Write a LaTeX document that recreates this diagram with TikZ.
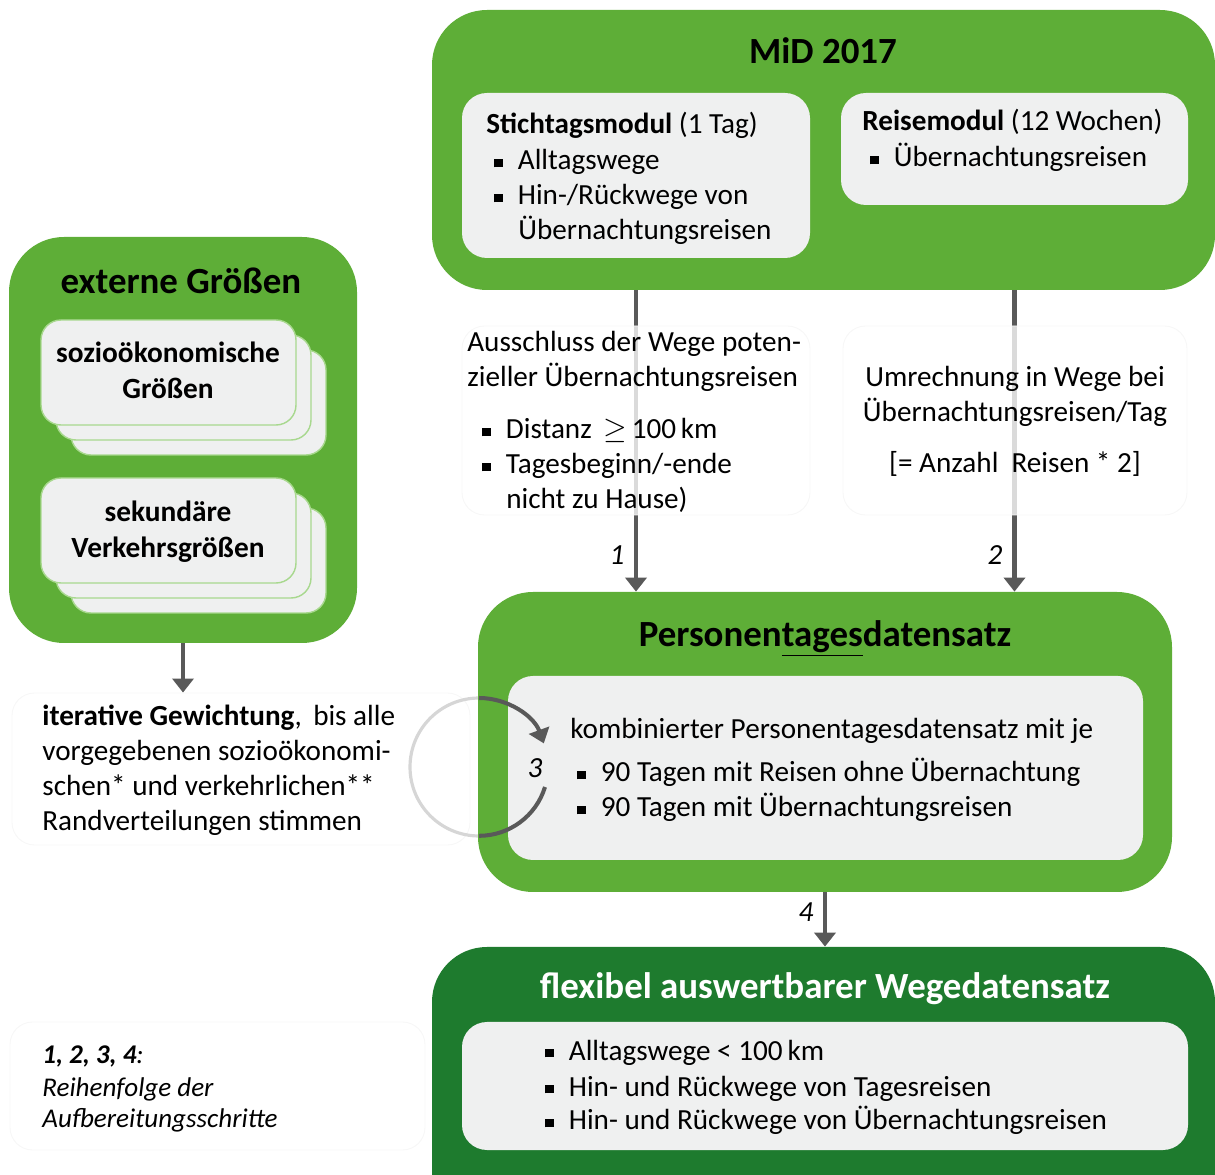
\documentclass[tikz,border=0pt]{standalone}
\usepackage{fontspec}
\setmainfont{Carlito}
\usetikzlibrary{positioning,arrows.meta,fit}
\definecolor{midgreen}{HTML}{5EAE37}
\definecolor{darkgreen}{HTML}{1E7B2E}
\definecolor{boxgrey}{HTML}{EFF0F0}
\definecolor{cardline}{HTML}{A8D88E}
\definecolor{arrowgrey}{HTML}{595959}
\definecolor{ringgrey}{HTML}{D6D6D6}
\newcommand{\blt}{\makebox[13.4pt][l]{\rule[1.5pt]{5pt}{5pt}}}
\newcommand{\bodyfont}{\fontsize{16.6}{19.8}\selectfont}
\newcommand{\headfont}{\fontsize{21}{25}\selectfont\bfseries}

\begin{document}
\begin{tikzpicture}[x=0.02cm,y=-0.02cm,
  greenbox/.style={fill=midgreen,rounded corners=1.1cm,inner sep=0pt},
  darkbox/.style={fill=darkgreen,rounded corners=1.1cm,inner sep=0pt},
  greybox/.style={fill=boxgrey,rounded corners=0.5cm,inner sep=0pt},
  card/.style={fill=boxgrey,draw=cardline,line width=0.8pt,rounded corners=0.4cm,inner sep=0pt},
  notebox/.style={fill=white,fill opacity=0.78,draw=black!3,line width=0.5pt,rounded corners=0.45cm,inner sep=0pt},
  txt/.style={anchor=base west,inner sep=0pt,font=\bodyfont},
  ctxt/.style={anchor=base,inner sep=0pt,font=\bodyfont},
  head/.style={anchor=base,inner sep=0pt,font=\headfont},
  flow/.style={draw=arrowgrey,line width=2.3pt,-{Triangle[width=12pt,length=8pt]}},
  steplbl/.style={inner sep=0pt,font=\bodyfont\itshape},
]
\useasboundingbox (0,0) rectangle (1215,1175);

% MiD 2017
\node[greenbox,fit={(432,10) (1215,290)}] (mid) {};
\node[head] (midT) at (823,64) {MiD 2017};
\node[greybox,fit={(462,93) (810,258)}] (stich) {};
\node[txt] (stichT) at (486,134) {\textbf{Stichtagsmodul} (1 Tag)};
\node[txt] (stich1) at (494,170) {\blt Alltagswege};
\node[txt] (stich2) at (494,205) {\blt Hin-/Rückwege von};
\node[txt] (stich3) at (518,240) {Übernachtungsreisen};
\node[greybox,fit={(841,93) (1188,205)}] (reise) {};
\node[txt] (reiseT) at (862,131) {\textbf{Reisemodul} (12 Wochen)};
\node[txt] (reise1) at (870,167) {\blt Übernachtungsreisen};

% externe Groessen
\node[greenbox,fit={(9,237) (357,643)}] (ext) {};
\node[head] (extT) at (181,294) {externe Größen};
\foreach \d in {30,15,0}{
  \node[card,fit={(41+\d,320+\d) (296+\d,425+\d)}] (soz\d) {};
  \node[card,fit={(41+\d,478+\d) (296+\d,583+\d)}] (sek\d) {};}
\node[ctxt,font=\fontsize{16.7}{20}\selectfont\bfseries] (soz1) at (168,363) {sozioökonomische};
\node[ctxt,font=\fontsize{16.7}{20}\selectfont\bfseries] (soz2) at (168,399) {Größen};
\node[ctxt,font=\fontsize{16.7}{20}\selectfont\bfseries] (sek1) at (168,522) {sekundäre};
\node[ctxt,font=\fontsize{16.7}{20}\selectfont\bfseries] (sek2) at (168,558) {Verkehrsgrößen};

% iterative Gewichtung
\node[notebox,fit={(12,693) (470,845)}] (iter) {};
\node[txt] (iter1) at (42,726) {\textbf{iterative Gewichtung}, \,bis alle};
\node[txt] (iter2) at (42,761) {vorgegebenen sozioökonomi-};
\node[txt] (iter3) at (42,796) {schen* und verkehrlichen**};
\node[txt] (iter4) at (42,831) {Randverteilungen stimmen};
\draw[ringgrey,line width=1.8pt] (479,767) circle (1.38cm);

% Personentagesdatensatz
\node[greenbox,fit={(478,592) (1172,892)}] (ptd) {};
\node[head] (ptdT) at (825,647) {Personen\underline{tages}datensatz};
\node[greybox,fit={(508,676) (1143,860)}] (kombi) {};
\node[txt] (kombi0) at (570,739) {kombinierter Personentagesdatensatz mit je};
\node[txt] (kombi1) at (577,782) {\blt 90 Tagen mit Reisen ohne Übernachtung};
\node[txt] (kombi2) at (577,817) {\blt 90 Tagen mit Übernachtungsreisen};

% Wegedatensatz
\node[darkbox,fit={(432,947) (1215,1230)}] (wds) {};
\node[head,text=white] (wdsT) at (825,999) {flexibel auswertbarer Wegedatensatz};
\node[greybox,fit={(462,1022) (1188,1150)}] (wlist) {};
\node[txt] (wlist1) at (545,1060) {\blt Alltagswege < 100\,km};
\node[txt] (wlist2) at (545,1096) {\blt Hin- und Rückwege von Tagesreisen};
\node[txt] (wlist3) at (545,1130) {\blt Hin- und Rückwege von Übernachtungsreisen};

% Legende
\node[notebox,fit={(10,1022) (425,1150)}] (legend) {};
\node[txt,font=\fontsize{15.4}{18}\selectfont\itshape] (legend1) at (42,1064) {\textbf{1, 2, 3, 4}:};
\node[txt,font=\fontsize{15.4}{18}\selectfont\itshape] (legend2) at (42,1096) {Reihenfolge der};
\node[txt,font=\fontsize{15.4}{18}\selectfont\itshape] (legend3) at (42,1128) {Aufbereitungsschritte};

% Schritte
\draw[flow] (stich.south |- mid.south) -- (stich.south |- ptd.north);
\draw[flow] (reise.south |- mid.south) -- (reise.south |- ptd.north);
\draw[flow] (ptd.south) -- (ptd.south |- wds.north);
\draw[flow] (ext.south) -- (ext.south |- iter.north);
\node[steplbl] (s1) at (617,555) {1};
\node[steplbl] (s2) at (995,555) {2};
\node[steplbl] (s4) at (806,912) {4};

\node[notebox,fit={(462,326) (810,515)}] (excl) {};
\node[txt] (excl1) at (467,352) {Ausschluss der Wege poten-};
\node[txt] (excl2) at (467,387) {zieller Übernachtungsreisen};
\node[txt] (excl3) at (482,439) {\blt Distanz \,$\geq$\,100\,km};
\node[txt] (excl4) at (482,474) {\blt Tagesbeginn/-ende};
\node[txt] (excl5) at (506,509) {nicht zu Hause)};
\node[notebox,fit={(843,326) (1187,515)}] (conv) {};
\node[ctxt] (conv1) at (1015,387) {Umrechnung in Wege bei};
\node[ctxt] (conv2) at (1015,422) {Übernachtungsreisen/Tag};
\node[ctxt] (conv3) at (1015,473) {[= Anzahl \ Reisen * 2]};

% Schleife 3
\draw[flow] (479,698) arc (90:20:1.38cm);
\draw[draw=arrowgrey,line width=2.3pt] (545,787) arc (-17:-90:1.38cm);
\node[steplbl] (s3) at (535,768) {3};
\end{tikzpicture}
\end{document}
